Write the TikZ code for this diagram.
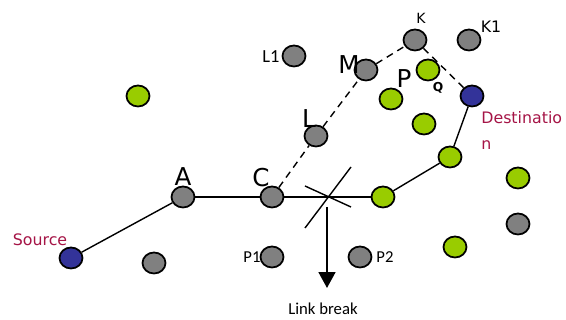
\documentclass[tikz,border=0pt]{standalone}
\usepackage{fontspec}
\setmainfont{DejaVu Sans}
\newfontfamily\calib{Carlito}
\usetikzlibrary{shapes.geometric,arrows.meta}
\definecolor{nodegray}{RGB}{128,128,128}
\definecolor{nodegreen}{RGB}{153,204,0}
\definecolor{nodeblue}{RGB}{51,51,153}
\definecolor{labelred}{RGB}{165,20,70}
\tikzset{
  mnode/.style={ellipse,draw,line width=1pt,minimum width=0.46cm,minimum height=0.42cm,inner sep=0pt},
  gnode/.style={mnode,fill=nodegray},
  vnode/.style={mnode,fill=nodegreen},
  bnode/.style={mnode,fill=nodeblue},
  biglbl/.style={font=\fontsize{14}{14}\selectfont},
  lbl/.style={font=\calib\fontsize{9.5}{10}\selectfont},
  redlbl/.style={text=labelred,font=\fontsize{9}{9}\selectfont},
  link/.style={line width=0.8pt},
  dlink/.style={line width=0.8pt,dash pattern=on 4pt off 3pt}
}
\begin{document}
\begin{tikzpicture}[x=0.02cm,y=-0.02cm]
\useasboundingbox (0,0) rectangle (566,320);
% nodes on the route
\node [bnode] (src) at (71,258) {};
\node [gnode] (a) at (183,197) {};
\node [gnode] (c) at (272,197) {};
\node [vnode] (g1) at (383,197) {};
\node [vnode] (g2) at (450,157) {};
\node [bnode] (dst) at (472,96) {};
% nodes on the detour
\node [gnode] (l) at (316,136) {};
\node [gnode] (m) at (366,70) {};
\node [gnode] (k) at (415,40) {};
% other nodes
\node [vnode] (g3) at (138,96) {};
\node [gnode] (l1) at (294,56) {};
\node [gnode] (k1) at (469,40) {};
\node [vnode] (g4) at (428,70) {};
\node [vnode] (g5) at (391,99) {};
\node [vnode] (g6) at (424,124) {};
\node [vnode] (g7) at (518,178) {};
\node [gnode] (n1) at (518,224) {};
\node [vnode] (g8) at (455,247) {};
\node [gnode] (n2) at (154,263) {};
\node [gnode] (p1) at (272,257) {};
\node [gnode] (p2) at (360,257) {};
% links
\draw [link] (src) -- (a);
\draw [link] (a) -- (c);
\draw [link] (c) -- (g1);
\draw [link] (g1) -- (g2);
\draw [link] (g2) -- (dst);
\draw [dlink] (c) -- (l);
\draw [dlink] (l) -- (m);
\draw [dlink] (m) -- (k);
\draw [dlink] (k) -- (dst);
% break mark
\coordinate (brk) at (327,197);
\coordinate (brkend) at (327,288);
\draw [link] (305,186) -- (351,207);
\draw [link] (305,228) -- (351,167);
\draw [line width=1.2pt,-{Triangle[width=9.5pt,length=9pt]}] ([yshift=-0.2cm]brk) -- (brkend);
% labels
\node [biglbl] (la) at (183,177) {A};
\node [biglbl] (lc) at (261,178) {C};
\node [biglbl] (ll) at (309,119) {L};
\node [biglbl] (lm) at (349,65) {M};
\node [biglbl] (lp) at (404,79) {P};
\node [font=\fontsize{8}{8}\selectfont] (lk) at (421,18) {K};
\node [font=\bfseries\fontsize{7}{7}\selectfont] (lq) at (438,88) {Q};
\node [font=\fontsize{9}{9}\selectfont] (lk1) at (491,27) {K1};
\node [lbl,font=\calib\fontsize{10.5}{11}\selectfont] (ll1) at (271,57) {L1};
\node [lbl] (lp1) at (252,257) {P1};
\node [lbl] (lp2) at (385,257) {P2};
\node [redlbl] (lsrc) at (40,240) {Source};
\node [redlbl,anchor=west,inner sep=0pt] (ldst) at (481,118) {Destinatio};
\node [redlbl,anchor=west,inner sep=0pt] (ldst2) at (481,145) {n};
\node [lbl] (lbrk) at (323,309) {Link break};
\end{tikzpicture}
\end{document}
